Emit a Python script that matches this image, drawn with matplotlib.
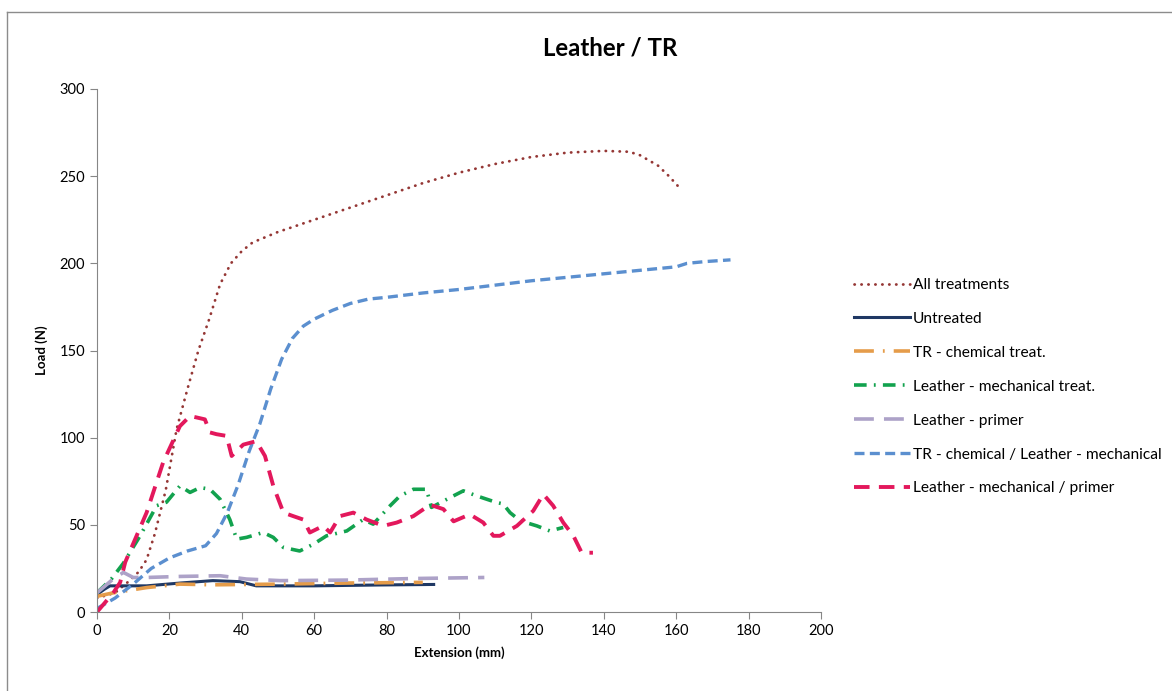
import matplotlib
matplotlib.use("Agg")
import matplotlib.pyplot as plt
from matplotlib.lines import Line2D

plt.rcParams['font.family'] = ['Lato', 'DejaVu Sans']

# valores (Extension en mm, Load en N)
all_x = [0, 5, 9, 11.5, 13.7, 16, 19, 22, 25, 28, 31, 34, 37, 40, 43, 50, 60, 70, 80, 90, 100,
         110, 120, 130, 140, 147, 150, 155, 158, 161.5]
all_y = [8, 11, 18, 23, 30, 45, 70, 105, 128, 150, 168, 188, 200, 207, 212, 218, 225, 232, 239,
         246, 252, 257, 261, 263.5, 264.5, 264, 262, 256, 250, 242]

untr_x = [0, 2, 3.6, 13.7, 22.9, 32, 39.5, 44, 60, 78, 93]
untr_y = [10, 13, 15, 15, 16.6, 18, 17.4, 15, 15, 15.5, 15.8]

trchem_x = [0, 4.5, 13.7, 22.9, 32, 50.6, 69, 90]
trchem_y = [9, 11, 14, 16, 15.6, 16, 16.6, 17]

lmech_x = [0, 4, 7.3, 11.9, 16.5, 19.2, 22.9, 25.7, 28.5, 31.2, 34, 36.7, 38.6, 41.3, 45.9, 48.7,
           51.5, 56, 59.8, 63.4, 69, 73.5, 76.3, 81, 83.7, 87.4, 91, 92.4, 97.5, 101.2, 104.9,
           110.4, 112.2, 114.1, 116.9, 121.5, 125.1, 128.8]
lmech_y = [11, 19, 28, 43.7, 61, 63, 72.3, 68.6, 71.4, 70.4, 64.7, 53, 41.8, 42.8, 45.6, 42.8,
           37, 35, 38.9, 43.7, 46.5, 53, 50.4, 61, 66.6, 70.4, 70.4, 60, 65.6, 69.5, 66.6,
           62.8, 62, 57, 52.3, 49.4, 46.5, 48.5]

lprim_x = [0, 4.5, 7.3, 10, 13.7, 22.9, 34, 41.3, 50.6, 69, 87.4, 107]
lprim_y = [11, 19, 22.7, 19.8, 19.8, 20.4, 20.8, 18.9, 18, 18.3, 19.2, 19.8]

combo_x = [0, 5, 10, 15, 20, 25, 30, 33, 36, 39, 42, 45, 48, 51, 54, 57, 60, 65, 70, 75, 80, 90,
           100, 110, 120, 130, 140, 150, 160, 163, 168, 175]
combo_y = [2, 8, 16, 25, 31, 35, 38, 45, 57, 73, 92, 108, 128, 145, 157, 164, 168, 173, 177,
           179.5, 180.5, 183, 185, 187.5, 190, 192, 194, 196, 198, 200, 201, 202]

mp_x = [0, 4.5, 6.4, 7.8, 13.7, 18.3, 22.9, 25.7, 27.5, 29.8, 31.2, 33, 35.8, 37.2, 40.4, 44,
        46.4, 48.7, 51.5, 54.2, 57, 58.8, 62.5, 64.4, 67.1, 70.8, 74.5, 79.1, 82.8, 87.4, 92,
        95.7, 98.5, 103, 106.7, 109.5, 111.3, 116, 120.5, 123.3, 126, 128.8, 131.6, 133.9, 137]
mp_y = [0, 11, 17, 28.6, 57, 86, 106.6, 112.4, 111.6, 110.5, 103, 102, 101, 89.5, 96, 98,
        89.5, 72.3, 57, 55, 53, 45.6, 49.4, 45.6, 55, 57, 53, 49.4, 51.3, 55, 61.5,
        59, 52, 56, 51.3, 43.7, 43.7, 49.4, 58, 67.5, 61, 51.3, 43.7, 34, 34]

etiquetas = ['All treatments', 'Untreated', 'TR - chemical treat.', 'Leather - mechanical treat.',
             'Leather - primer', 'TR - chemical / Leather - mechanical', 'Leather - mechanical / primer']

fig = plt.figure(figsize=(11.72, 6.91), dpi=100)
ax = fig.add_axes([97 / 1172, 1 - 612 / 691, (821 - 97) / 1172, (612 - 89) / 691])

ax.plot(all_x, all_y, color='#953735', lw=2.0, linestyle=(0, (0.1, 2.4)), dash_capstyle='round')
ax.plot(untr_x, untr_y, color='#1F3864', lw=2.2)
ax.plot(trchem_x, trchem_y, color='#E59C4A', lw=2.6, linestyle=(0, (5.5, 2.5, 0.5, 2.5)))
ax.plot(lmech_x, lmech_y, color='#12A24E', lw=2.6, linestyle=(0, (3.5, 2, 0.5, 2)))
ax.plot(lprim_x, lprim_y, color='#ADA2C8', lw=2.6, linestyle=(0, (5.5, 2.8)))
ax.plot(combo_x, combo_y, color='#5B8FCF', lw=2.4, linestyle=(0, (3.0, 1.6)))
ax.plot(mp_x, mp_y, color='#E3185C', lw=2.8, linestyle=(0, (4.0, 2.4)))

ax.set_xlim(0, 200)
ax.set_ylim(0, 300)
ax.set_xticks(range(0, 201, 20))
ax.set_yticks(range(0, 301, 50))
for s in ['top', 'right']:
    ax.spines[s].set_visible(False)
for s in ['left', 'bottom']:
    ax.spines[s].set_color('#868686')
ax.tick_params(colors='#868686', labelcolor='black', labelsize=10.5, length=5)
ax.set_xlabel('Extension (mm)', fontsize=9.5, fontweight='bold', labelpad=6)
ax.set_ylabel('Load (N)', fontsize=9.5, fontweight='bold', labelpad=8)

fig.text(610 / 1172, 1 - 48 / 691, 'Leather / TR', fontsize=17.3, fontweight='bold',
         ha='center', va='center')

# legenda sin marco a la derecha
lineas = ax.get_lines()
fig.legend(lineas, etiquetas, loc='upper left', bbox_to_anchor=(854 / 1172, 1 - 278 / 691),
           frameon=False, fontsize=11.2, handlelength=3.6, handletextpad=0.2,
           labelspacing=1.28, borderpad=0, borderaxespad=0)

# borde del area del grafico
fig.add_artist(Line2D([7 / 1172, 7 / 1172], [0, 1 - 12 / 691], color='#8c8c8c', lw=1,
                      transform=fig.transFigure))
fig.add_artist(Line2D([7 / 1172, 1], [1 - 12 / 691, 1 - 12 / 691], color='#8c8c8c', lw=1,
                      transform=fig.transFigure))

fig.savefig('out.png', dpi=100)
